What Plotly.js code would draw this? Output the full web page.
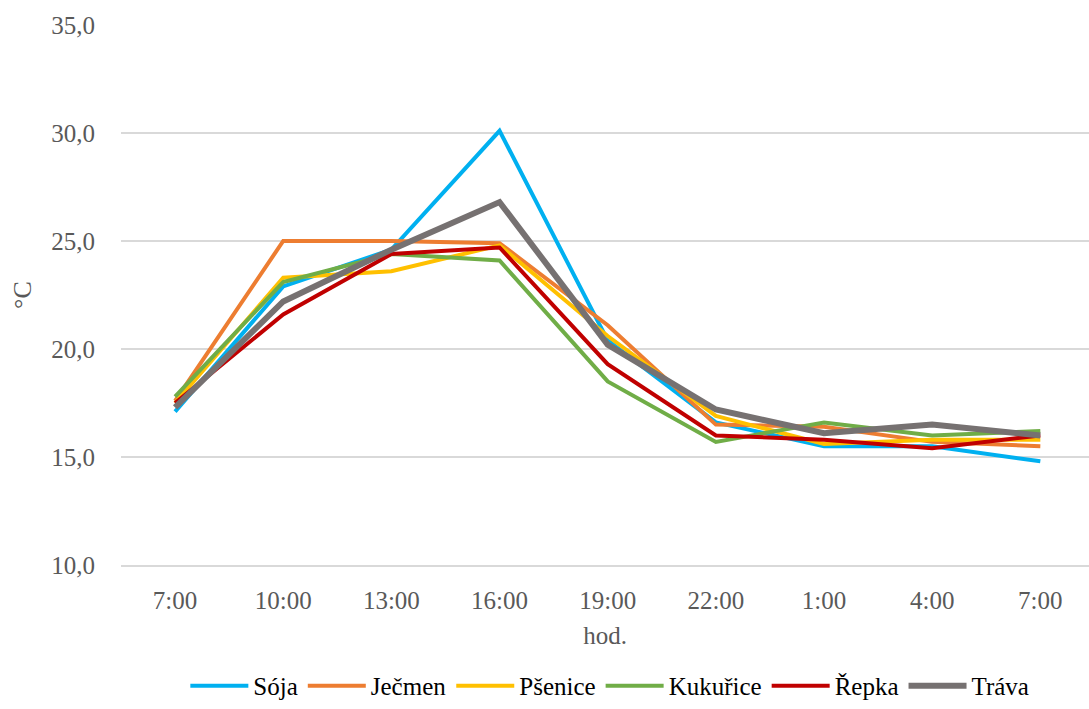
<!DOCTYPE html>
<html>
<head>
<meta charset="utf-8">
<script src="https://cdn.plot.ly/plotly-3.0.1.min.js"></script>
<style>html,body{margin:0;padding:0;background:#fff;}#chart{width:1089px;height:709px;}</style>
</head>
<body>
<div id="chart"></div>
<script>
const timeLabels = ["7:00","10:00","13:00","16:00","19:00","22:00","1:00","4:00","7:00"];
const seriesNames = ["Sója","Ječmen","Pšenice","Kukuřice","Řepka","Tráva"];
const soja     = [17.1, 22.9, 24.6, 30.1, 20.4, 16.6, 15.5, 15.5, 14.8];
const jecmen   = [17.6, 25.0, 25.0, 24.9, 21.1, 16.5, 16.4, 15.7, 15.5];
const psenice  = [17.5, 23.3, 23.6, 24.8, 20.6, 16.9, 15.6, 15.8, 15.8];
const kukurice = [17.8, 23.1, 24.4, 24.1, 18.5, 15.7, 16.6, 16.0, 16.2];
const repka    = [17.5, 21.6, 24.4, 24.7, 19.3, 16.0, 15.8, 15.4, 16.0];
const trava    = [17.3, 22.2, 24.6, 26.8, 20.2, 17.2, 16.1, 16.5, 16.0];

const values = [soja, jecmen, psenice, kukurice, repka, trava];
const colors = ["#00B0F0","#ED7D31","#FFC000","#70AD47","#C00000","#767171"];
const widths = [4, 4, 4, 4, 4, 6];
const xIdx = timeLabels.map((_, i) => i);

const traces = values.map((v, k) => ({
  type: "scatter", mode: "lines",
  x: xIdx, y: v, name: seriesNames[k],
  line: {color: colors[k], width: widths[k]}
}));

const fam = "Liberation Serif";
const font = {family: fam, color: "#595959", size: 25};

const layout = {
  width: 1089, height: 709,
  margin: {l: 121, r: 0, t: 25, b: 139},
  paper_bgcolor: "#fff", plot_bgcolor: "#fff",
  font: font,
  showlegend: true,
  legend: {orientation: "h", x: 0.505, xanchor: "center", y: -0.224, yanchor: "middle",
           font: {family: fam, color: "#000", size: 25}, itemwidth: 58},
  xaxis: {
    range: [-0.5, 8.45], tickvals: xIdx, ticktext: timeLabels,
    showgrid: false, zeroline: false,
    showline: true, linecolor: "#d9d9d9", linewidth: 2,
    ticks: "outside", ticklen: 12, tickcolor: "rgba(0,0,0,0)",
    tickfont: font,
    title: {text: "hod.", font: font, standoff: 13}
  },
  yaxis: {
    range: [10, 35], tickvals: [10, 15, 20, 25, 30, 35], tickformat: ".1f",
    showgrid: true, gridcolor: "#d9d9d9", gridwidth: 2,
    zeroline: false, showline: false,
    ticks: "outside", ticklen: 20, tickcolor: "rgba(0,0,0,0)",
    tickfont: font,
    title: {text: "°C", font: {family: fam, color: "#595959", size: 26}, standoff: 12}
  },
  separators: ", "
};

Plotly.newPlot("chart", traces, layout, {displayModeBar: false});
</script>
</body>
</html>
